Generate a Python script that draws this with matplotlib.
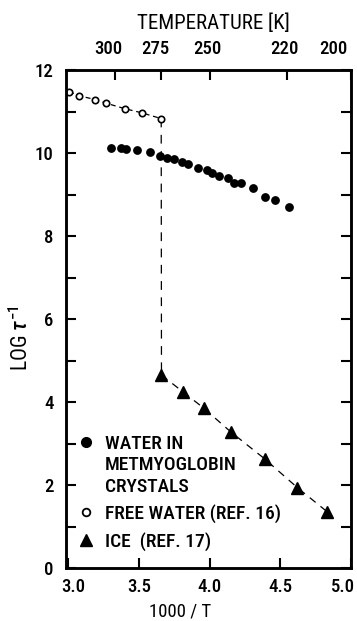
import numpy as np
import matplotlib.pyplot as plt
import matplotlib.transforms as mtransforms
from matplotlib.lines import Line2D

plt.rcParams['font.family'] = ['Roboto Condensed', 'DejaVu Sans']
plt.rcParams['font.weight'] = 'medium'
plt.rcParams['mathtext.fontset'] = 'custom'
plt.rcParams['mathtext.rm'] = 'Roboto Condensed'
plt.rcParams['mathtext.it'] = 'Roboto Condensed:italic'
plt.rcParams['mathtext.bf'] = 'Roboto Condensed:bold'

# water in metmyoglobin crystals (filled circles)
mb_x = [3.305, 3.376, 3.41, 3.49, 3.58, 3.65, 3.70, 3.75, 3.805, 3.85, 3.92,
        3.98, 4.02, 4.07, 4.13, 4.17, 4.22, 4.31, 4.395, 4.46, 4.56]
mb_y = [10.13, 10.12, 10.10, 10.07, 10.03, 9.93, 9.88, 9.86, 9.78, 9.73, 9.63,
        9.59, 9.51, 9.45, 9.41, 9.27, 9.27, 9.16, 8.94, 8.86, 8.69]
# free water, ref. 16 (open circles)
fw_x = [3.007, 3.079, 3.19, 3.27, 3.40, 3.52, 3.658]
fw_y = [11.48, 11.38, 11.29, 11.20, 11.07, 10.97, 10.83]
# ice, ref. 17 (triangles)
ice_x = [3.66, 3.81, 3.96, 4.15, 4.39, 4.62, 4.83]
ice_y = [4.65, 4.25, 3.85, 3.28, 2.63, 1.94, 1.36]

# top axis: temperature tick marks (on the 1000/T scale) and where the labels sit
temp_labels = ['300', '275', '250', '220', '200']
temp_ticks = [3.333, 3.66, 4.0, 4.545, 5.0]
temp_label_pos = [3.286, 3.619, 3.986, 4.530, 4.876]
xticks = [3.0, 3.5, 4.0, 4.5, 5.0]
xticklabels = ['3.0', '3.5', '4.0', '4.5', '5.0']
yticks = [0, 2, 4, 6, 8, 10, 12]
yminor = [1, 3, 5, 7, 9, 11]

fs = 13.5
fig = plt.figure(figsize=(3.57, 6.21), dpi=100)
ax = fig.add_axes([0.1849, 0.0853, 0.7983, 0.8019])

ax.plot([fw_x[-1], ice_x[0]], [fw_y[-1], ice_y[0]], color='black', lw=0.9,
        dashes=(7, 6))
ax.plot(fw_x, fw_y, color='black', lw=0.9, dashes=(4, 3), marker='o',
        ms=4.6, mfc='white', mec='black', mew=1.2)
ax.plot(ice_x, ice_y, color='black', lw=0.9, dashes=(6, 5), marker='^',
        ms=9, mfc='black', mec='black')
ax.plot(mb_x, mb_y, 'o', color='black', ms=5.3)

ax.set_xlim(2.985, 5.0)
ax.set_ylim(0, 12)
ax.set_xticks(xticks)
ax.set_xticklabels(xticklabels)
ax.set_yticks(yticks)
ax.set_yticks(yminor, minor=True)
ax.tick_params(which='both', direction='in', width=1.5, length=7,
               right=True, labelsize=fs)
ax.tick_params(axis='y', pad=9)
ax.tick_params(axis='x', pad=7)
for s in ax.spines.values():
    s.set_linewidth(1.8)

# nudge the end labels inwards as in the original
labs = ax.get_xticklabels()
labs[0].set_transform(labs[0].get_transform() +
                      mtransforms.ScaledTranslation(4 / 72, 0, fig.dpi_scale_trans))
labs[-1].set_transform(labs[-1].get_transform() +
                       mtransforms.ScaledTranslation(-6 / 72, 0, fig.dpi_scale_trans))

ax.set_xlabel('1000 / T', fontsize=fs)
ax.xaxis.set_label_coords(0.40, -0.069)
ax.set_ylabel(r'LOG $\tau^{-1}$', fontsize=15.5)
ax.yaxis.set_label_coords(-0.115, 0.462)

top = ax.twiny()
top.set_xlim(ax.get_xlim())
top.set_xticks(temp_label_pos)
top.set_xticklabels(temp_labels)
top.set_xticks(temp_ticks, minor=True)
top.tick_params(which='major', length=0, labelsize=fs, pad=9)
top.tick_params(which='minor', direction='in', length=7, width=1.5)
for s in top.spines.values():
    s.set_linewidth(1.8)
top.set_xlabel('TEMPERATURE [K]', fontsize=15)
top.xaxis.set_label_coords(0.516, 1.082)

blank = Line2D([], [], linestyle='none')
leg_a = ax.legend(
    [Line2D([], [], linestyle='none', marker='o', color='black', ms=7), blank, blank],
    ['WATER IN', 'METMYOGLOBIN', 'CRYSTALS'],
    loc='lower left', bbox_to_anchor=(0.042, 0.144), frameon=False, fontsize=14,
    handlelength=0.8, handletextpad=0.58, labelspacing=0.2,
    borderpad=0, borderaxespad=0)
ax.add_artist(leg_a)
ax.legend(
    [Line2D([], [], linestyle='none', marker='o', mfc='white', mec='black', ms=5.5, mew=1.3),
     Line2D([], [], linestyle='none', marker='^', color='black', ms=9)],
    ['FREE WATER (REF. 16)', 'ICE  (REF. 17)'],
    loc='lower left', bbox_to_anchor=(0.042, 0.035), frameon=False, fontsize=14,
    handlelength=0.8, handletextpad=0.58, labelspacing=0.45,
    borderpad=0, borderaxespad=0)

fig.savefig('out.png', dpi=100)
